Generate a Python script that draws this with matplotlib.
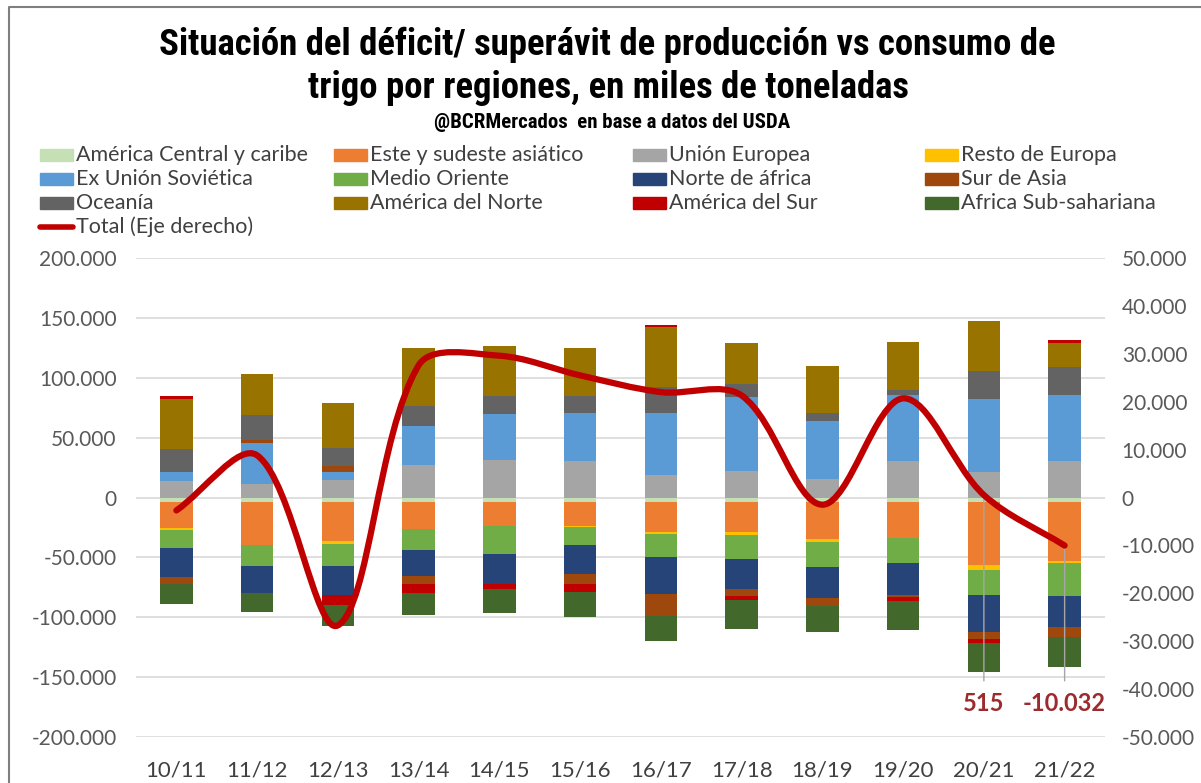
import numpy as np
import matplotlib
matplotlib.use('Agg')
import matplotlib.pyplot as plt
from matplotlib.path import Path
from matplotlib.patches import PathPatch, Rectangle
from matplotlib.lines import Line2D

campaigns = ['10/11', '11/12', '12/13', '13/14', '14/15', '15/16',
             '16/17', '17/18', '18/19', '19/20', '20/21', '21/22']

# miles de toneladas (eje izquierdo)
america_central = [-3500, -4000, -4000, -4000, -4000, -4000, -4000, -4000, -4000, -4000, -4000, -4000]
este_asiatico = [-22000, -35500, -32000, -22000, -20000, -19400, -24400, -24400, -30500, -30000, -52000, -49400]
union_europea = [14000, 11000, 15000, 27500, 31700, 30500, 18600, 22000, 15800, 30500, 21400, 30500]
resto_europa = [-2000, 0, -3000, 0, 0, -1400, -2200, -3300, -2800, 0, -4700, -1400]
ex_urss = [7000, 34400, 6000, 32000, 37800, 40300, 52000, 62000, 48000, 55000, 60500, 55300]
medio_oriente = [-15000, -18000, -18600, -17500, -22800, -14700, -19000, -19400, -20800, -20300, -20800, -27800]
norte_africa = [-23600, -22000, -24000, -22000, -25800, -24000, -31000, -25300, -25800, -27000, -30800, -25600]
sur_asia = [-6400, 2800, 5000, -6400, 0, -8600, -18600, -5500, -7000, -2200, -6100, -8300]
oceania = [19400, 20800, 15000, 17000, 15300, 14000, 21400, 10600, 6700, 4400, 23600, 23000]
america_norte = [42000, 34000, 38000, 48000, 41400, 40000, 50000, 34700, 39700, 40000, 41700, 20300]
america_sur = [2500, 0, -7800, -7500, -4000, -6700, 2000, -3900, 0, -2800, -3300, 2800]
africa_ss = [-16400, -16000, -17500, -19000, -20000, -20800, -20800, -24400, -21400, -24000, -24400, -25300]

# eje derecho
total = [-2700, 8800, -26700, 27600, 29600, 25500, 22000, 21300, -1500, 20700, 515, -10032]

regions = ['América Central y caribe', 'Este y sudeste asiático', 'Unión Europea', 'Resto de Europa',
           'Ex Unión Soviética', 'Medio Oriente', 'Norte de áfrica', 'Sur de Asia',
           'Oceanía', 'América del Norte', 'América del Sur', 'Africa Sub-sahariana']
series = [america_central, este_asiatico, union_europea, resto_europa, ex_urss, medio_oriente,
          norte_africa, sur_asia, oceania, america_norte, america_sur, africa_ss]
colors = ['#C5E0B4', '#ED7D31', '#A5A5A5', '#FFC000', '#5B9BD5', '#70AD47',
          '#264478', '#9E480E', '#636363', '#997300', '#C00000', '#43682B']

BODY = ['Lato', 'DejaVu Sans']
TITLE = ['Liberation Sans Narrow', 'Roboto Condensed', 'DejaVu Sans']
W, H = 1201, 783

fig = plt.figure(figsize=(W / 100, H / 100), dpi=100)
ax = fig.add_axes([136 / W, 1 - 737 / H, (1105 - 136) / W, (737 - 258) / H])
ax2 = ax.twinx()

x = np.arange(len(campaigns))
pos_b = np.zeros(len(x))
neg_b = np.zeros(len(x))
for vals, col in zip(series, colors):
    v = np.array(vals, dtype=float)
    ax.bar(x, v, 0.4, bottom=np.where(v >= 0, pos_b, neg_b), color=col, linewidth=0, zorder=2)
    pos_b += np.clip(v, 0, None)
    neg_b += np.clip(v, None, 0)

ax.set_xlim(-0.5, len(x) - 0.5)
ax.set_ylim(-200000, 200000)
ax.set_yticks(np.arange(-200000, 200001, 50000))
ax2.set_ylim(-50000, 50000)
ax2.set_yticks(np.arange(-50000, 50001, 10000))
ax.set_xticks(x)
ax.set_xticklabels(campaigns)

fmt = lambda v, p: f'{v:,.0f}'.replace(',', '.')
ax.yaxis.set_major_formatter(fmt)
ax2.yaxis.set_major_formatter(fmt)
ax.grid(axis='y', color='#D9D9D9', lw=1.2, zorder=0)
ax.set_axisbelow(True)
for a in (ax, ax2):
    for s in a.spines.values():
        s.set_visible(False)
ax.tick_params(axis='y', length=0, pad=14, labelsize=15, labelcolor='#595959')
ax.tick_params(axis='x', length=0, pad=17, labelsize=16, labelcolor='#404040')
ax2.tick_params(axis='y', length=0, pad=12, labelsize=15, labelcolor='#595959')
for lab in ax.get_xticklabels() + ax.get_yticklabels() + ax2.get_yticklabels():
    lab.set_family(BODY)

# linea suavizada (bezier, estilo excel) en coordenadas de pantalla
pts = ax2.transData.transform(np.column_stack([x, total]))
n = len(pts)
verts = [pts[0]]
codes = [Path.MOVETO]
for i in range(n - 1):
    p0, p1, p2, p3 = pts[max(i - 1, 0)], pts[i], pts[i + 1], pts[min(i + 2, n - 1)]
    d01 = np.hypot(*(p1 - p0)); d12 = np.hypot(*(p2 - p1)); d23 = np.hypot(*(p3 - p2))
    c1 = p1 + (p2 - p0) / 3 * d12 / (d01 + d12) if d01 > 0 else p1 + (p2 - p1) / 3
    c2 = p2 - (p3 - p1) / 3 * d12 / (d12 + d23) if d23 > 0 else p2 - (p2 - p1) / 3
    verts += [c1, c2, p2]
    codes += [Path.CURVE4] * 3
verts = ax2.transData.inverted().transform(np.array(verts))
ax2.add_patch(PathPatch(Path(verts, codes), fill=False, edgecolor='#C00000', lw=4.5,
                        capstyle='round', joinstyle='round', zorder=5))

for i in (10, 11):
    ax2.annotate(fmt(total[i], None), xy=(i, total[i]), xytext=(i, -43000),
                 ha='center', va='center', fontsize=17, fontweight='bold', color='#9C2B2E',
                 family=BODY,
                 arrowprops=dict(arrowstyle='-', color='#A6A6A6', lw=1, shrinkA=6, shrinkB=0),
                 zorder=4)

# titulo: tamaño ajustado al ancho que ocupa en la imagen original
renderer = fig.canvas.get_renderer()
heads = [('Situación del déficit/ superávit de producción vs consumo de', 45, 607, 900, 27),
         ('trigo por regiones, en miles de toneladas', 88, 608, 603, 27),
         ('@BCRMercados  en base a datos del USDA', 123, 612, 405, 15)]
for txt, yy, xx, target, fs in heads:
    t = fig.text(xx / W, 1 - yy / H, txt, ha='center', va='center', fontsize=fs,
                 fontweight='bold', fontstretch='condensed', family=TITLE)
    w = t.get_window_extent(renderer).width
    if w > target:
        t.set_fontsize(fs * target / w)

# leyenda (orden por filas como en excel)
col_x = [40, 334, 633, 925]
row_y = [155, 179, 203, 227]
for k, (name, col) in enumerate(zip(regions, colors)):
    r, c = divmod(k, 4)
    fig.patches.append(Rectangle((col_x[c] / W, 1 - (row_y[r] + 6) / H), 33 / W, 12 / H,
                                 transform=fig.transFigure, color=col))
    fig.text((col_x[c] + 36) / W, 1 - row_y[r] / H, name, ha='left', va='center',
             fontsize=15.5, color='#404040', family=BODY)
fig.lines.append(Line2D([40 / W, 73 / W], [1 - 227 / H] * 2, transform=fig.transFigure,
                        color='#C00000', lw=4, solid_capstyle='round'))
fig.text(76 / W, 1 - 227 / H, 'Total (Eje derecho)', ha='left', va='center',
         fontsize=15.5, color='#404040', family=BODY)

# borde del grafico
fig.lines.append(Line2D([9 / W, 9 / W, 1], [0, 1 - 7 / H, 1 - 7 / H], transform=fig.transFigure,
                        color='#7F7F7F', lw=1.5))

fig.savefig('out.png', dpi=100)
